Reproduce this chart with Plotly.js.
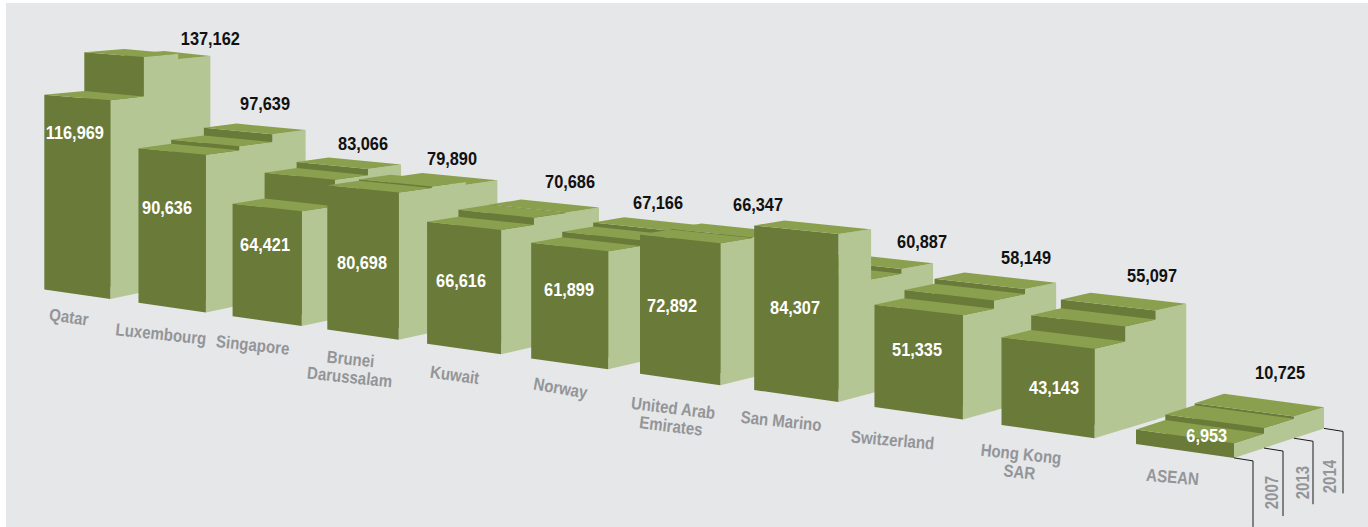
<!DOCTYPE html>
<html><head><meta charset="utf-8">
<script src="https://cdn.plot.ly/plotly-3.0.1.min.js"></script>
<style>html,body{margin:0;padding:0;background:#fff}#chart{width:1368px;height:527px}</style>
</head><body><div id="chart"></div>
<script>
// ---------- data (GDP per capita) ----------
const categories = ["Qatar","Luxembourg","Singapore","Brunei<br>Darussalam","Kuwait","Norway","United Arab<br>Emirates","San Marino","Switzerland","Hong Kong<br>SAR","ASEAN"];
const v2007 = [116969,90636,64421,80698,66616,61899,72892,84307,51335,43143,6953];
const v2013 = [140500,93000,79500,81500,70500,65000,73300,58500,55500,50500,9700];
const v2014 = [137162,97639,83066,79890,70686,67166,66347,60887,58149,55097,10725];
const yearLabels = ["2007","2013","2014"];

// ---------- label placement (text only) ----------
const frontLabelPos = [[75,132],[167,207],[265,244],[362,262],[461,280],[569,289],[672,305],[795,307],[917,349],[1054,387],[1207,435]];
const rearLabelPos  = [[210,38],[265,103],[363,143],[452,158],[570,181],[658,202],[758,204],[922,241],[1026,257],[1152,275],[1280,372]];
const catLabelPos   = [[69,317],[161,334],[253,345],[350,368],[455,375],[560,388],[672,417],[781,421],[892,440],[1020,463],[1172,477]];
const catLabelRot   = [8,6,6,6,8,10,7,6,5,6,5];
const yearLabelPos  = [[1272,493],[1303,483],[1330,477]];
const catLineGap = 19;

// ---------- colours ----------
const cFront="#6a7a39", cTop="#8aa04e", cSide="#b4c693", cBg="#e6e7e8", cCat="#939598";

// ---------- perspective model: slot i, across u(0..1), depth t(0..1), value v ----------
const left  = i => 44 + 91.39*i + 0.638*i*i + 0.1143*i*i*i + 3*Math.exp(-(i-1.5)*(i-1.5));
const width = i => 66 + 1.2*i + 0.2*i*i;
const dL    = i => 98 - i + 22*Math.exp(-3*i);
const dR    = i => 100 - 0.2*i - 0.08*i*i;
const dY    = i => -(20.5 + 0.09*i*i);
const scale = i => 1.665 + 0.041*i;
const rho   = i => 0.955 - 0.0025*i;
function P(i,u,t,v){
  const fx = left(i)+u*width(i);
  const x = fx + t*((1-u)*dL(i)+u*dR(i));
  const g = 289.5 + 0.1415*(fx-44) + t*dY(i);
  const s = scale(i)*(1+0.02*u)*(1-(1-rho(i))*t);
  return [x, g - v/1000*s];
}
const traces=[];
function poly(pts,color){
  const c=pts.concat([pts[0]]);
  traces.push({type:"scatter",mode:"lines",x:c.map(p=>p[0]),y:c.map(p=>p[1]),fill:"toself",fillcolor:color,line:{width:0,color:color},hoverinfo:"skip",showlegend:false});
}
function bar(i,t0,t1,v){
  const over = t1<1 ? 0.012 : 0;   // side runs just under the next bar, so no seam shows
  poly([P(i,1,t0,0),P(i,1,t1+over,0),P(i,1,t1+over,v),P(i,1,t0,v)],cSide);
  poly([P(i,0,t0,0),P(i,1,t0,0),P(i,1,t0,v),P(i,0,t0,v)],cFront);
  poly([P(i,0,t0,v),P(i,1,t0,v),P(i,1,t1,v),P(i,0,t1,v)],cTop);
}
categories.forEach((_,i)=>{
  bar(i,2/3,1,v2014[i]);
  bar(i,1/3,2/3,v2013[i]);
  bar(i,0,1/3,v2007[i]);
});
// year leader lines, from the ASEAN block's depth edges
const last=categories.length-1;
[[0,66],[1/3,65],[2/3,63],[1,62]].forEach(([t,len])=>{
  const a=P(last,1,t,0);
  const x=[a[0],a[0]+19,a[0]+19], y=[a[1],a[1]+3,a[1]+3+len];
  traces.push({type:"scatter",mode:"lines",x,y,line:{color:"#1a1a1a",width:1},hoverinfo:"skip",showlegend:false});
});

const font="'Liberation Sans',Arial,sans-serif";
const fmt=n=>n.toLocaleString("en-US");
const ann=[];
function label(text,pos,size,color,angle){
  ann.push({text:"<b>"+text+"</b>",x:pos[0],y:pos[1],xref:"x",yref:"y",showarrow:false,xanchor:"center",yanchor:"middle",textangle:angle||0,font:{family:font,size:size,color:color}});
}
categories.forEach((c,i)=>{
  label(fmt(v2007[i]),frontLabelPos[i],19,"#ffffff");
  label(fmt(v2014[i]),rearLabelPos[i],19,"#111111");
  const lines=c.split("<br>"), th=catLabelRot[i]*Math.PI/180;
  lines.forEach((ln,k)=>{
    const d=(k-(lines.length-1)/2)*catLineGap;
    label(ln,[catLabelPos[i][0]-Math.sin(th)*d,catLabelPos[i][1]+Math.cos(th)*d],17.5,cCat,catLabelRot[i]);
  });
});
yearLabels.forEach((y,i)=>label(y,yearLabelPos[i],17.5,cCat,-90));

Plotly.newPlot("chart",traces,{
  width:1368,height:527,
  paper_bgcolor:"#ffffff",plot_bgcolor:cBg,
  margin:{l:6,r:0,t:3,b:0,pad:0},
  showlegend:false,
  xaxis:{visible:false,range:[6,1368],fixedrange:true},
  yaxis:{visible:false,range:[527,3],fixedrange:true},
  annotations:ann
},{displayModeBar:false,staticPlot:true}).then(gd=>{
  // the original face is a condensed grotesque: narrow each label about its own centre
  gd.querySelectorAll(".annotation-text-g text").forEach(t=>{
    const k=0.86, cx=parseFloat(t.getAttribute("x"))||0, prev=t.getAttribute("transform")||"";
    t.setAttribute("transform",prev+" translate("+cx+" 0) scale("+k+" 1) translate("+(-cx)+" 0)");
  });
});
</script></body></html>
